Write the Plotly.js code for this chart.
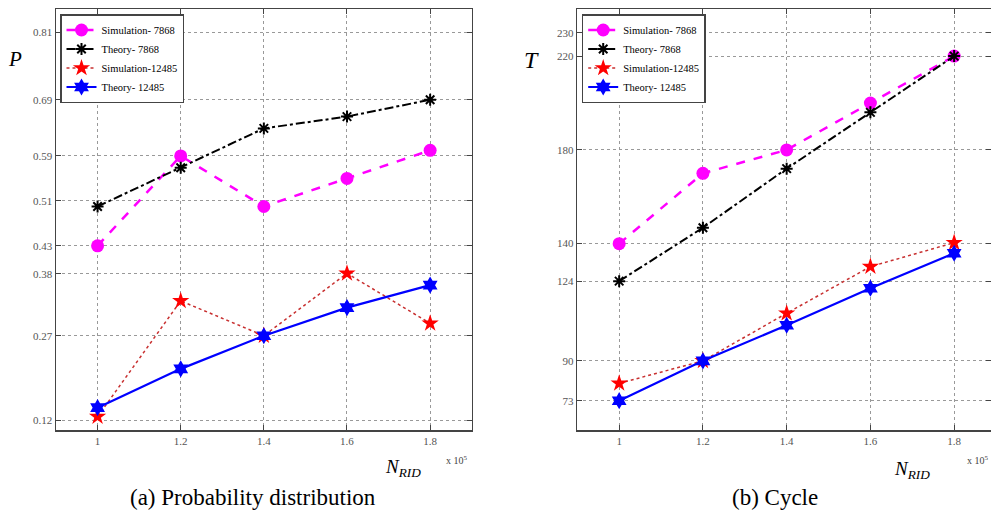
<!DOCTYPE html>
<html>
<head>
<meta charset="utf-8">
<script src="https://cdn.plot.ly/plotly-3.0.1.min.js"></script>
<style>html,body{margin:0;padding:0;background:#fff;overflow:hidden;}</style>
</head>
<body>
<div id="chart" style="width:991px;height:514px;"></div>
<script>
// Data
const nRid = [1, 1.2, 1.4, 1.6, 1.8];
const legendNames = ["Simulation- 7868", "Theory- 7868", "Simulation-12485", "Theory- 12485"];

// (a) Probability distribution P
const pSim7868 = [0.43, 0.59, 0.50, 0.55, 0.60];
const pThe7868 = [0.50, 0.569, 0.639, 0.66, 0.69];
const pSim12485 = [0.126, 0.332, 0.27, 0.381, 0.292];
const pThe12485 = [0.142, 0.211, 0.27, 0.32, 0.36];
const pTicks = [0.12, 0.27, 0.38, 0.43, 0.51, 0.59, 0.69, 0.81];

// (b) Cycle T
const tSim7868 = [140, 170, 180, 200, 220];
const tThe7868 = [124, 146.8, 172, 196, 220];
const tSim12485 = [80.4, 90, 110.3, 130.2, 140.4];
const tThe12485 = [73, 90, 105.2, 121, 135.9];
const tTicks = [73, 90, 124, 140, 180, 220, 230];

const xTicks = [1, 1.2, 1.4, 1.6, 1.8];
const xTickText = ["1", "1.2", "1.4", "1.6", "1.8"];

const serif = "Liberation Serif";

const styles = [
  {line: {color: "#ff00ff", width: 2.5, dash: "dash"}, marker: {symbol: "circle", size: 13, color: "#ff00ff"}},
  {line: {color: "#000000", width: 2, dash: "dashdot"}, marker: {symbol: "asterisk-open", size: 10, color: "#000000", line: {width: 2, color: "#000000"}}},
  {line: {color: "#c83030", width: 1.5, dash: "dot"}, marker: {symbol: "star", size: 13, color: "#ff0000"}},
  {line: {color: "#0000ff", width: 2.2, dash: "solid"}, marker: {symbol: "hexagram", size: 13, color: "#0000ff"}}
];

function mk(series, xa, ya, leg) {
  return series.map((ys, i) => ({
    x: nRid, y: ys, xaxis: xa, yaxis: ya, name: legendNames[i],
    mode: "lines+markers", type: "scatter",
    line: styles[i].line, marker: styles[i].marker,
    legend: leg, showlegend: true
  }));
}

const traces = [
  ...mk([pSim7868, pThe7868, pSim12485, pThe12485], "x", "y", "legend"),
  ...mk([tSim7868, tThe7868, tSim12485, tThe12485], "x2", "y2", "legend2")
];

const axBase = {
  showline: true, linecolor: "#444", linewidth: 1.5, mirror: "allticks",
  ticks: "inside", ticklen: 5, tickcolor: "#444",
  showgrid: true, gridcolor: "#999", griddash: "dot", gridwidth: 1,
  zeroline: false,
  tickfont: {family: serif, size: 11, color: "#555"}
};

const yDomain = [1 - 430/514, 1 - 9/514];

const legBase = {
  xanchor: "left", yanchor: "top",
  bgcolor: "#fff", bordercolor: "#444", borderwidth: 1.5,
  font: {family: serif, size: 10.5, color: "#000"}, tracegroupgap: 0, itemwidth: 30
};

function ann(text, x, y, size, color) {
  return {text: text, xref: "paper", yref: "paper", x: x/991, y: 1 - y/514, xanchor: "center", yanchor: "middle",
          showarrow: false, font: {family: serif, size: size, color: color || "#000"}};
}

const layout = {
  width: 991, height: 514,
  margin: {l: 0, r: 0, t: 0, b: 0},
  paper_bgcolor: "#fff", plot_bgcolor: "#fff",
  font: {family: serif},
  xaxis: Object.assign({}, axBase, {domain: [56/991, 471.7/991], range: [0.9, 1.9], tickvals: xTicks, ticktext: xTickText, anchor: "y"}),
  yaxis: Object.assign({}, axBase, {domain: yDomain, range: [0.1022, 0.8515], tickvals: pTicks, ticktext: pTicks.map(v => v.toFixed(2)), anchor: "x"}),
  xaxis2: Object.assign({}, axBase, {domain: [577.3/991, 1], range: [0.9, 1.888], tickvals: xTicks, ticktext: xTickText, anchor: "y2"}),
  yaxis2: Object.assign({}, axBase, {domain: yDomain, range: [60.5, 240.1], tickvals: tTicks, ticktext: tTicks.map(String), anchor: "x2"}),
  legend: Object.assign({}, legBase, {x: 60/991, y: 1 - 14/514}),
  legend2: Object.assign({}, legBase, {x: 581.7/991, y: 1 - 14/514}),
  annotations: [
    ann("<i>P</i>", 15, 59, 21),
    ann("<i>T</i>", 531, 60, 24),
    ann("<i>N</i><sub><i>RID</i></sub>", 403, 468, 19),
    ann("x 10<sup>5</sup>", 457, 460, 10, "#444"),
    ann("<i>N</i><sub><i>RID</i></sub>", 912, 470, 19),
    ann("x 10<sup>5</sup>", 978, 460, 10, "#444"),
    ann("(a) Probability distribution", 253, 497, 23),
    ann("(b) Cycle", 775, 497, 23)
  ]
};

Plotly.newPlot("chart", traces, layout, {staticPlot: true, displayModeBar: false});
</script>
</body>
</html>
